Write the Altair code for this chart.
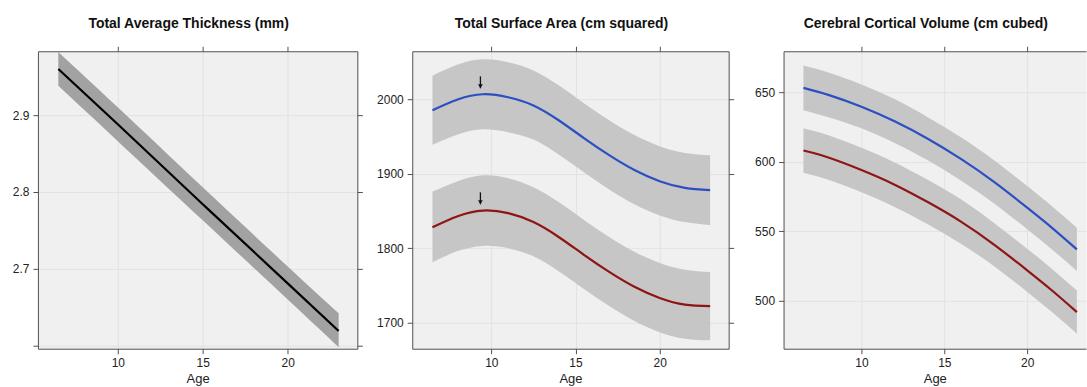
import altair as alt
import pandas as pd

# ---------------- data ----------------
# Panel 1: Total Average Thickness (mm)
thick_age = [6.5, 10, 15, 20, 23]
thick_fit = [2.960, 2.888, 2.784, 2.681, 2.619]
thick_lo = [2.938, 2.866, 2.763, 2.660, 2.598]
thick_hi = [2.982, 2.910, 2.806, 2.703, 2.642]

# Panel 2: Total Surface Area (cm squared)
sa_age = [6.5, 8, 9.5, 11, 12.5, 14, 15.5, 17, 18.5, 20, 21.5, 23]
sa_male = [1985.5, 2000, 2007, 2003, 1992, 1972, 1948, 1925, 1905, 1890, 1881, 1878]
sa_male_lo = [1939, 1953, 1960, 1956, 1946, 1926, 1902, 1879, 1859, 1844, 1835, 1831]
sa_male_hi = [2032, 2047, 2054, 2050, 2039, 2019, 1995, 1972, 1952, 1937, 1928, 1925]
sa_female = [1828, 1843, 1850.5, 1847, 1835, 1815, 1791, 1768, 1748, 1733, 1724, 1722]
sa_female_lo = [1781, 1796, 1803, 1800, 1789, 1769, 1745, 1722, 1702, 1687, 1678, 1676]
sa_female_hi = [1876, 1890, 1898, 1894, 1882, 1862, 1838, 1815, 1795, 1780, 1771, 1768]

# peak markers (arrows) in panel 2
arrow_age = [9.35, 9.35]
arrow_top = [2031, 1875]
arrow_tip = [2015, 1859]

# Panel 3: Cerebral Cortical Volume (cm cubed)
vol_age = [6.5, 8, 10, 12, 14, 16, 18, 20, 21.5, 23]
vol_male = [653, 648, 639.5, 629, 616.5, 602, 585.5, 567, 552.5, 537]
vol_male_lo = [637, 632, 624, 613.5, 601, 586.5, 570, 551.5, 537, 521.5]
vol_male_hi = [669, 664, 655.5, 645, 632, 617.5, 601, 582.5, 568, 552.5]
vol_female = [608, 603, 594, 583.5, 571, 557, 540.5, 522, 507.5, 492]
vol_female_lo = [592, 587, 578, 567.5, 555, 541, 525, 506.5, 492, 476.5]
vol_female_hi = [624, 619, 610, 599.5, 587, 573, 556, 537.5, 523, 507.5]

x_ticks = [10, 15, 20]
thick_ticks = [2.6, 2.7, 2.8, 2.9]
sa_ticks = [1700, 1800, 1900, 2000]
vol_ticks = [500, 550, 600, 650]

sexes = ["Male", "Female"]

# ---------------- styling ----------------
FONT = "Liberation Sans"
FRAME = "#505050"
BLUE = "#2b4fc2"
RED = "#8e1515"
BAND = "#c6c6c6"
BAND_DARK = "#a2a2a2"
GRID = "#e2e2e2"
H = 298
INTERP = "natural"


def frame(df_list):
    return pd.concat(df_list, ignore_index=True)


def series_df(age, fit, lo, hi, sex):
    return pd.DataFrame({"age": age, "fit": fit, "lo": lo, "hi": hi, "sex": sex})


def ax_common(**kw):
    base = dict(domainColor=FRAME, tickColor=FRAME, tickSize=5, domainWidth=1,
                tickWidth=1, labelFont=FONT, labelFontSize=12, labelColor="#222222")
    base.update(kw)
    return alt.Axis(**base)


def x_main(dom):
    return alt.X("age:Q", scale=alt.Scale(domain=dom, nice=False, zero=False),
                 axis=ax_common(values=x_ticks, title="Age", grid=True, gridColor=GRID,
                                format="d", labelPadding=4, titlePadding=4, titleFont=FONT,
                                titleFontSize=13, titleFontWeight="normal",
                                titleColor="#222222"))


def x_top(dom):
    return alt.X("age:Q", scale=alt.Scale(domain=dom, nice=False, zero=False),
                 axis=ax_common(orient="top", values=x_ticks, labels=False, grid=False,
                                title=None))


def y_main(field, dom, ticks, fmt, label_expr=None):
    kw = dict(values=ticks, title=None, grid=True, gridColor=GRID, labelPadding=4, format=fmt)
    if label_expr:
        kw["labelExpr"] = label_expr
    return alt.Y(f"{field}:Q", scale=alt.Scale(domain=dom, nice=False, zero=False),
                 axis=ax_common(**kw))


def y_right(field, dom, ticks):
    return alt.Y(f"{field}:Q", scale=alt.Scale(domain=dom, nice=False, zero=False),
                 axis=ax_common(orient="right", values=ticks, labels=False, grid=False,
                                title=None))


def y_noaxis(field, dom):
    return alt.Y(f"{field}:Q", scale=alt.Scale(domain=dom, nice=False, zero=False), axis=None)


def title(t):
    return alt.TitleParams(t, font=FONT, fontSize=14, fontWeight="bold", color="#111111",
                           anchor="middle", dx=-9, offset=14.5)


color_enc = alt.Color("sex:N", scale=alt.Scale(domain=sexes, range=[BLUE, RED]), legend=None)

# ---------------- panel 1 ----------------
X1 = [5.3, 24.1]
Y1 = [2.596, 2.983]
d1 = series_df(thick_age, thick_fit, thick_lo, thick_hi, "All")
p1_band = alt.Chart(d1).mark_area(color=BAND_DARK, interpolate=INTERP).encode(
    x=x_main(X1),
    y=y_main("lo", Y1, thick_ticks, ".1f", "datum.value < 2.65 ? '' : datum.label"),
    y2="hi:Q",
)
p1_line = alt.Chart(d1).mark_line(color="#000000", strokeWidth=2.2, interpolate=INTERP).encode(
    x=x_top(X1),
    y=y_right("fit", Y1, thick_ticks),
)
p1 = alt.layer(p1_band, p1_line).resolve_axis(x="independent", y="independent").properties(
    width=320, height=H, title=title("Total Average Thickness (mm)"))

# ---------------- panel 2 ----------------
X2 = [5.3, 24.1]
Y2 = [1664.7, 2064.8]
d2 = frame([series_df(sa_age, sa_male, sa_male_lo, sa_male_hi, "Male"),
            series_df(sa_age, sa_female, sa_female_lo, sa_female_hi, "Female")])
p2_band = alt.Chart(d2).mark_area(color=BAND, interpolate=INTERP).encode(
    x=x_main(X2),
    y=y_main("lo", Y2, sa_ticks, "d"),
    y2="hi:Q",
    detail="sex:N",
)
p2_line = alt.Chart(d2).mark_line(strokeWidth=2.2, interpolate=INTERP).encode(
    x=x_top(X2),
    y=y_right("fit", Y2, sa_ticks),
    color=color_enc,
)
d_arrow = pd.DataFrame({"age": arrow_age, "top": arrow_top, "tip": arrow_tip})
p2_arrow = alt.Chart(d_arrow).mark_rule(color="#111111", strokeWidth=1.3).encode(
    x=alt.X("age:Q", scale=alt.Scale(domain=X2, nice=False, zero=False), axis=None),
    y=y_noaxis("top", Y2),
    y2="tip:Q",
)
p2_head = alt.Chart(d_arrow).mark_point(shape="triangle-down", filled=True, color="#111111",
                                        size=22, opacity=1, yOffset=-2).encode(
    x=alt.X("age:Q", scale=alt.Scale(domain=X2, nice=False, zero=False), axis=None),
    y=y_noaxis("tip", Y2),
)
p2 = alt.layer(p2_band, p2_line, p2_arrow, p2_head).resolve_axis(
    x="independent", y="independent").properties(
    width=317, height=H, title=title("Total Surface Area (cm squared)"))

# ---------------- panel 3 ----------------
X3 = [5.3, 23.55]
Y3 = [465.7, 679.3]
d3 = frame([series_df(vol_age, vol_male, vol_male_lo, vol_male_hi, "Male"),
            series_df(vol_age, vol_female, vol_female_lo, vol_female_hi, "Female")])
p3_band = alt.Chart(d3).mark_area(color=BAND, interpolate=INTERP).encode(
    x=x_main(X3),
    y=y_main("lo", Y3, vol_ticks, "d"),
    y2="hi:Q",
    detail="sex:N",
)
p3_line = alt.Chart(d3).mark_line(strokeWidth=2.2, interpolate=INTERP).encode(
    x=x_top(X3),
    y=y_noaxis("fit", Y3),
    color=color_enc,
)
p3 = alt.layer(p3_band, p3_line).resolve_axis(x="independent", y="independent").properties(
    width=303, height=H, title=title("Cerebral Cortical Volume (cm cubed)"))

chart = alt.hconcat(p1, p2, p3, spacing=55, bounds="flush").properties(
    padding={"left": 11, "top": 16, "right": 0, "bottom": 0},
    background="#ffffff",
).configure_view(fill="#f0f0f0", stroke="transparent")

chart.save("out.html", embed_options={"renderer": "svg", "actions": False})
